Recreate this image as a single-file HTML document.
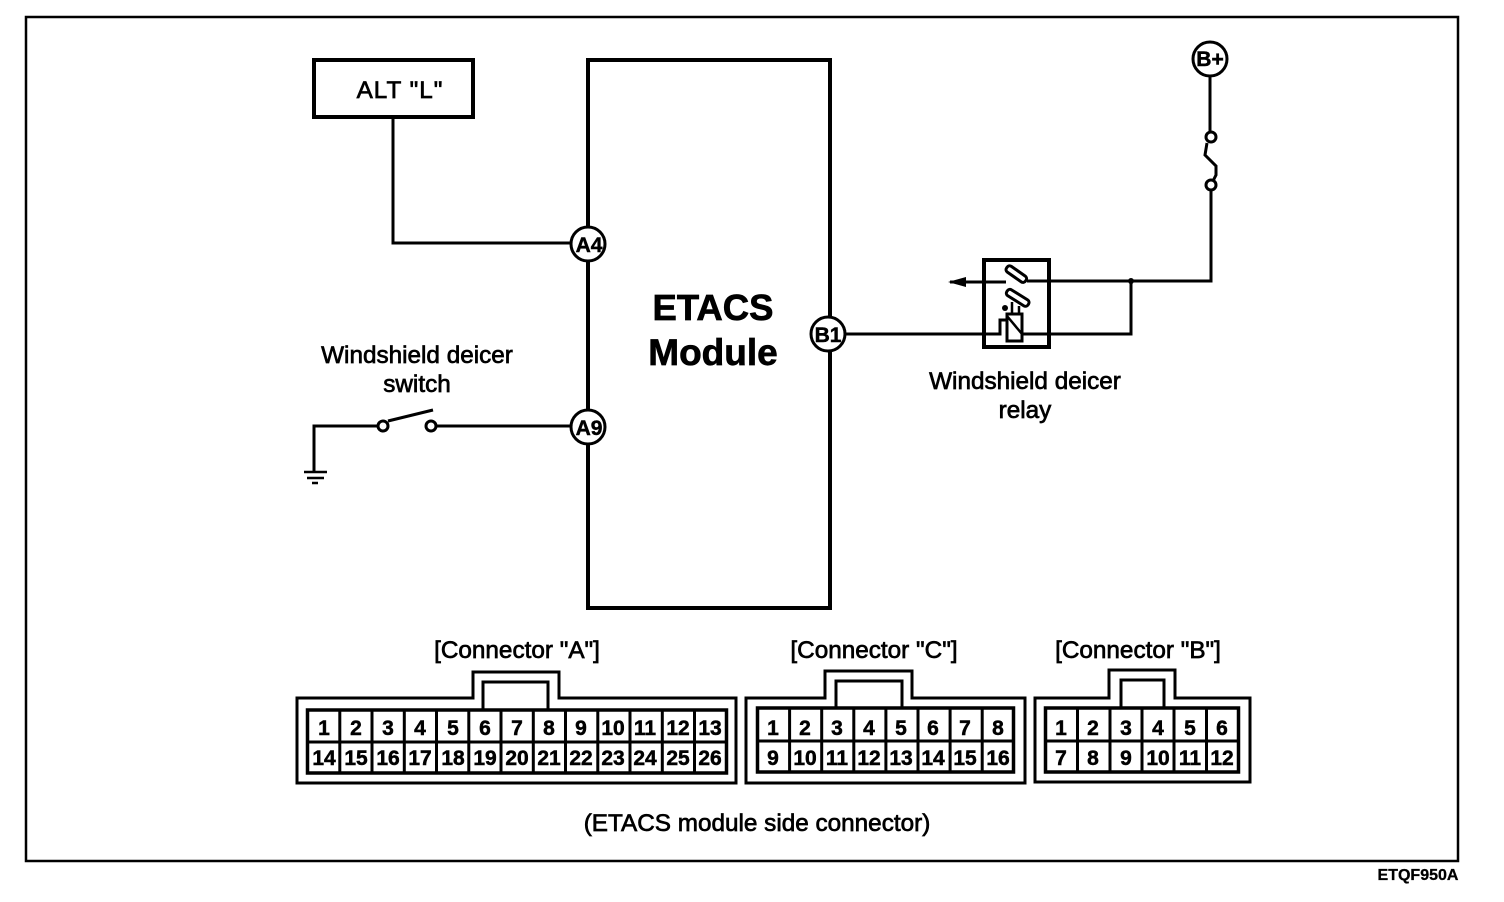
<!DOCTYPE html>
<html><head><meta charset="utf-8"><style>
html,body{margin:0;padding:0;background:#fff;width:1504px;height:902px;overflow:hidden}
svg{display:block}
text{font-family:"Liberation Sans",sans-serif;fill:#000;stroke:#000;stroke-width:.7}
.l{font-size:24.3px;text-anchor:middle}
.n{font-size:21px;text-anchor:middle;font-weight:bold;stroke-width:.5}
.w{fill:none;stroke:#000;stroke-width:3}
.c{fill:#fff;stroke:#000;stroke-width:3}
.t{font-size:21px;font-weight:bold;text-anchor:middle;stroke-width:.5}
</style></head><body>
<svg width="1504" height="902" viewBox="0 0 1504 902" xmlns="http://www.w3.org/2000/svg">
<rect x="26" y="17" width="1432" height="844" fill="none" stroke="#000" stroke-width="2.5"/>
<rect x="314" y="60" width="159" height="57" fill="none" stroke="#000" stroke-width="4"/>
<text class="l" x="400" y="98" style="letter-spacing:1px">ALT "L"</text>
<rect x="588" y="60" width="242" height="548" fill="none" stroke="#000" stroke-width="4"/>
<text x="713" y="320" font-size="36.500" font-weight="bold" text-anchor="middle">ETACS</text>
<text x="713" y="365" font-size="37" font-weight="bold" text-anchor="middle">Module</text>
<path class="w" d="M393 117V243H571"/>
<path class="w" d="M314 471V426H378M388 421L433 410M437 426H571"/>
<circle class="c" cx="383" cy="426" r="5"/><circle class="c" cx="431" cy="426" r="5"/>
<path d="M304 472H327M307 478H324M312 483H318" stroke="#000" stroke-width="2.5"/>
<text class="l" x="417" y="363">Windshield deicer</text>
<text class="l" x="417" y="392">switch</text>
<circle class="c" cx="588" cy="244" r="17"/><text class="t" x="589" y="252">A4</text>
<circle class="c" cx="588" cy="427" r="17"/><text class="t" x="589" y="435">A9</text>
<circle class="c" cx="828" cy="334" r="17"/><text class="t" x="828" y="342">B1</text>
<path class="w" d="M846 334H1000V320H1007M1022 334H1131V281"/>
<rect x="984" y="260" width="65" height="87" fill="none" stroke="#000" stroke-width="4"/>
<path class="w" d="M1027 281H1211V190M1210 77V132"/>
<path class="w" d="M950 282H1006"/><path d="M948 282L966 277V287Z" fill="#000"/>
<g transform="rotate(35 1017 274)"><rect x="1005" y="271" width="23" height="7" rx="3" class="c"/></g>
<g transform="rotate(32 1017 298)"><rect x="1005" y="294" width="25" height="7" rx="3" class="c"/></g>
<path d="M1012 302V314M1019 306V314" stroke="#000" stroke-width="2.5"/>
<circle cx="1005" cy="308" r="3" fill="#000"/>
<rect x="1007" y="314" width="15" height="27" fill="#fff" stroke="#000" stroke-width="3"/>
<path d="M1007 316L1022 334" stroke="#000" stroke-width="2.5"/>
<path d="M1000 334V320H1007" class="w"/>
<circle cx="1131" cy="281" r="3" fill="#000"/>
<path d="M1207 143L1205 155L1216 166V175L1213 181" fill="none" stroke="#000" stroke-width="3"/>
<circle class="c" cx="1211" cy="137" r="5"/><circle class="c" cx="1211" cy="185" r="5"/>
<circle class="c" cx="1210" cy="59" r="17"/><text class="t" x="1210" y="66">B+</text>
<text class="l" x="1025" y="389">Windshield deicer</text>
<text class="l" x="1025" y="418">relay</text>

<text class="l" x="517" y="658">[Connector "A"]</text>
<text class="l" x="874" y="658">[Connector "C"]</text>
<text class="l" x="1138" y="658">[Connector "B"]</text>

<path class="w" d="M297 698H473V672H559V698H736V783H297Z"/>
<path class="w" d="M483 709V682H548V709"/>
<rect x="307.500" y="710" width="419" height="63" fill="none" stroke="#000" stroke-width="3.5"/>
<path class="w" d="M307 742H727M339.800 710V773M372 710V773M404.300 710V773M436.500 710V773M468.800 710V773M501 710V773M533.300 710V773M565.500 710V773M597.800 710V773M630 710V773M662.300 710V773M694.500 710V773"/>
<text class="n" x="324" y="735">1</text><text class="n" x="356" y="735">2</text><text class="n" x="388" y="735">3</text><text class="n" x="420" y="735">4</text><text class="n" x="453" y="735">5</text><text class="n" x="485" y="735">6</text><text class="n" x="517" y="735">7</text><text class="n" x="549" y="735">8</text><text class="n" x="581" y="735">9</text><text class="n" x="613" y="735">10</text><text class="n" x="645" y="735">11</text><text class="n" x="678" y="735">12</text><text class="n" x="710" y="735">13</text>
<text class="n" x="324" y="765">14</text><text class="n" x="356" y="765">15</text><text class="n" x="388" y="765">16</text><text class="n" x="420" y="765">17</text><text class="n" x="453" y="765">18</text><text class="n" x="485" y="765">19</text><text class="n" x="517" y="765">20</text><text class="n" x="549" y="765">21</text><text class="n" x="581" y="765">22</text><text class="n" x="613" y="765">23</text><text class="n" x="645" y="765">24</text><text class="n" x="678" y="765">25</text><text class="n" x="710" y="765">26</text>

<path class="w" d="M746 698H825V671H912V698H1025V783H746Z"/>
<path class="w" d="M836 708V681H902V708"/>
<rect x="757.500" y="708" width="256" height="64" fill="none" stroke="#000" stroke-width="3.500"/>
<path class="w" d="M757 741H1014M789.600 708V772M821.700 708V772M853.800 708V772M885.900 708V772M918 708V772M950.100 708V772M982.200 708V772"/>
<text class="n" x="773" y="735">1</text><text class="n" x="805" y="735">2</text><text class="n" x="837" y="735">3</text><text class="n" x="869" y="735">4</text><text class="n" x="901" y="735">5</text><text class="n" x="933" y="735">6</text><text class="n" x="965" y="735">7</text><text class="n" x="998" y="735">8</text>
<text class="n" x="773" y="765">9</text><text class="n" x="805" y="765">10</text><text class="n" x="837" y="765">11</text><text class="n" x="869" y="765">12</text><text class="n" x="901" y="765">13</text><text class="n" x="933" y="765">14</text><text class="n" x="965" y="765">15</text><text class="n" x="998" y="765">16</text>

<path class="w" d="M1035 698H1109V670H1175V698H1250V782H1035Z"/>
<path class="w" d="M1121 708V680H1164V708"/>
<rect x="1045.500" y="708" width="193" height="64" fill="none" stroke="#000" stroke-width="3.500"/>
<path class="w" d="M1045 741H1239M1077.500 708V772M1110 708V772M1142 708V772M1174 708V772M1206.500 708V772"/>
<text class="n" x="1061" y="735">1</text><text class="n" x="1093" y="735">2</text><text class="n" x="1126" y="735">3</text><text class="n" x="1158" y="735">4</text><text class="n" x="1190" y="735">5</text><text class="n" x="1222" y="735">6</text>
<text class="n" x="1061" y="765">7</text><text class="n" x="1093" y="765">8</text><text class="n" x="1126" y="765">9</text><text class="n" x="1158" y="765">10</text><text class="n" x="1190" y="765">11</text><text class="n" x="1222" y="765">12</text>

<text class="l" x="757" y="831">(ETACS module side connector)</text>
<text x="1418" y="880" font-size="16" font-weight="bold" text-anchor="middle" style="stroke-width:.3">ETQF950A</text>
</svg>
</body></html>
